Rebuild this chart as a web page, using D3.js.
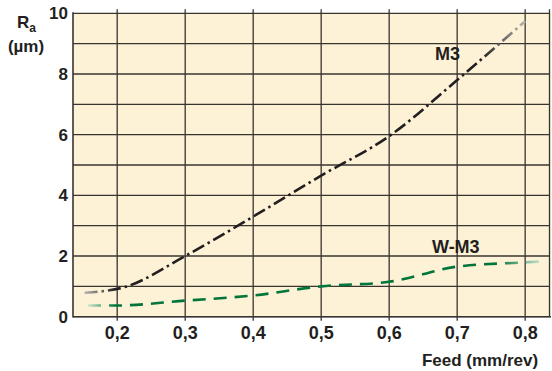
<!DOCTYPE html>
<html>
<head>
<meta charset="utf-8">
<script src="https://cdn.jsdelivr.net/npm/d3@7"></script>
<style>
  html, body { margin: 0; padding: 0; background: #fff; }
  svg { display: block; }
  text { font-family: "Liberation Sans", Arial, Helvetica, sans-serif; font-weight: bold; fill: #231f20; }
</style>
</head>
<body>
<svg id="chart" width="552" height="371"></svg>
<script>
// ---- data ----
const xTicks = [0.2, 0.3, 0.4, 0.5, 0.6, 0.7, 0.8];
const xTickLabels = ["0,2", "0,3", "0,4", "0,5", "0,6", "0,7", "0,8"];
const yTicks = [0, 2, 4, 6, 8, 10];
const yTickLabels = ["0", "2", "4", "6", "8", "10"];
const yGrid = [0, 1, 2, 3, 4, 5, 6, 7, 8, 9, 10];

const m3Feed = [0.152, 0.21, 0.3, 0.4, 0.5, 0.6, 0.7, 0.8];
const m3Ra   = [0.79, 0.97, 2.0, 3.3, 4.65, 5.95, 7.8, 9.74];

const wm3Feed = [0.157, 0.2, 0.3, 0.4, 0.5, 0.6, 0.7, 0.8, 0.825];
const wm3Ra   = [0.37, 0.37, 0.53, 0.7, 1.0, 1.15, 1.65, 1.79, 1.82];

const seriesNames = ["M3", "W-M3"];

// ---- layout ----
const svg = d3.select("#chart");
const x = d3.scaleLinear().domain([0.135, 0.838]).range([73, 551]);
const y = d3.scaleLinear().domain([0, 10]).range([316.7, 13.3]);
const [x0, x1] = x.range();
const [yb, yt] = y.range();

// background
svg.append("rect").attr("x", x0).attr("y", yt).attr("width", x1 - x0).attr("height", yb - yt)
  .attr("fill", "#fdf1d6");

const gridColor = "#3a3431";
// horizontal grid
svg.append("g").selectAll("line").data(yGrid).join("line")
  .attr("x1", x0).attr("x2", x1 - 1)
  .attr("y1", d => y(d)).attr("y2", d => y(d))
  .attr("stroke", gridColor).attr("stroke-width", 1.3);
// vertical grid with small ticks above and below
svg.append("g").selectAll("line").data(xTicks).join("line")
  .attr("x1", d => x(d)).attr("x2", d => x(d))
  .attr("y1", yt - 4).attr("y2", yb + 4)
  .attr("stroke", gridColor).attr("stroke-width", 1.3);
// right border
svg.append("line").attr("x1", x1 - 1.5).attr("x2", x1 - 1.5).attr("y1", yt - 4).attr("y2", yb)
  .attr("stroke", gridColor).attr("stroke-width", 1.3);
// left axis line
svg.append("line").attr("x1", x0).attr("x2", x0).attr("y1", yt - 1).attr("y2", yb + 0.7)
  .attr("stroke", gridColor).attr("stroke-width", 1.6);
// bottom axis line
svg.append("line").attr("x1", x0).attr("x2", x1).attr("y1", yb).attr("y2", yb)
  .attr("stroke", gridColor).attr("stroke-width", 1.6);

// tick labels
svg.append("g").selectAll("text").data(yTicks).join("text")
  .attr("x", 68).attr("y", d => y(d) + 6)
  .attr("text-anchor", "end").attr("font-size", 17)
  .text((d, i) => yTickLabels[i]);
svg.append("g").selectAll("text").data(xTicks).join("text")
  .attr("x", d => x(d)).attr("y", 339)
  .attr("text-anchor", "middle").attr("font-size", 18)
  .text((d, i) => xTickLabels[i]);

// axis titles
const ra = svg.append("text").attr("x", 17).attr("y", 28).attr("font-size", 17);
ra.append("tspan").text("R");
ra.append("tspan").attr("font-size", 12).attr("dy", 4).text("a");
svg.append("text").attr("x", 26).attr("y", 52).attr("text-anchor", "middle").attr("font-size", 17).text("(µm)");
svg.append("text").attr("x", 480).attr("y", 366).attr("text-anchor", "middle").attr("font-size", 17)
  .text("Feed (mm/rev)");

// clipped footnote at bottom edge
svg.append("text").attr("x", 50).attr("y", 380).attr("font-size", 13).style("fill", "#8a8a8a")
  .text("M3 = Standard M3");

// gradients for faded line ends
const defs = svg.append("defs");
function fadeGrad(id, color, fadeColor, xs, xe, s1, e1) {
  const g = defs.append("linearGradient").attr("id", id)
    .attr("gradientUnits", "userSpaceOnUse")
    .attr("x1", xs).attr("x2", xe).attr("y1", 0).attr("y2", 0);
  g.append("stop").attr("offset", 0).attr("stop-color", fadeColor);
  g.append("stop").attr("offset", s1).attr("stop-color", color);
  g.append("stop").attr("offset", e1).attr("stop-color", color);
  g.append("stop").attr("offset", 1).attr("stop-color", fadeColor);
}
fadeGrad("gM3", "#231f20", "#b8b4b0", x(m3Feed[0]), x(m3Feed[m3Feed.length - 1]), 0.07, 0.9);
fadeGrad("gW", "#00753a", "#cfe6d0", x(wm3Feed[0]), x(wm3Feed[wm3Feed.length - 1]), 0.06, 0.9);

const line = d3.line().x(d => x(d[0])).y(d => y(d[1])).curve(d3.curveMonotoneX);

svg.append("path")
  .datum(m3Feed.map((f, i) => [f, m3Ra[i]]))
  .attr("d", line).attr("fill", "none")
  .attr("stroke", "url(#gM3)").attr("stroke-width", 2.6)
  .attr("stroke-dasharray", "13,4,2.5,4");

svg.append("path")
  .datum(wm3Feed.map((f, i) => [f, wm3Ra[i]]))
  .attr("d", line).attr("fill", "none")
  .attr("stroke", "url(#gW)").attr("stroke-width", 2.6)
  .attr("stroke-dasharray", "13,8");

// series labels
svg.append("text").attr("x", 435).attr("y", 60).attr("font-size", 18).text(seriesNames[0]);
svg.append("text").attr("x", 432).attr("y", 253).attr("font-size", 18).text(seriesNames[1]);
</script>
</body>
</html>
